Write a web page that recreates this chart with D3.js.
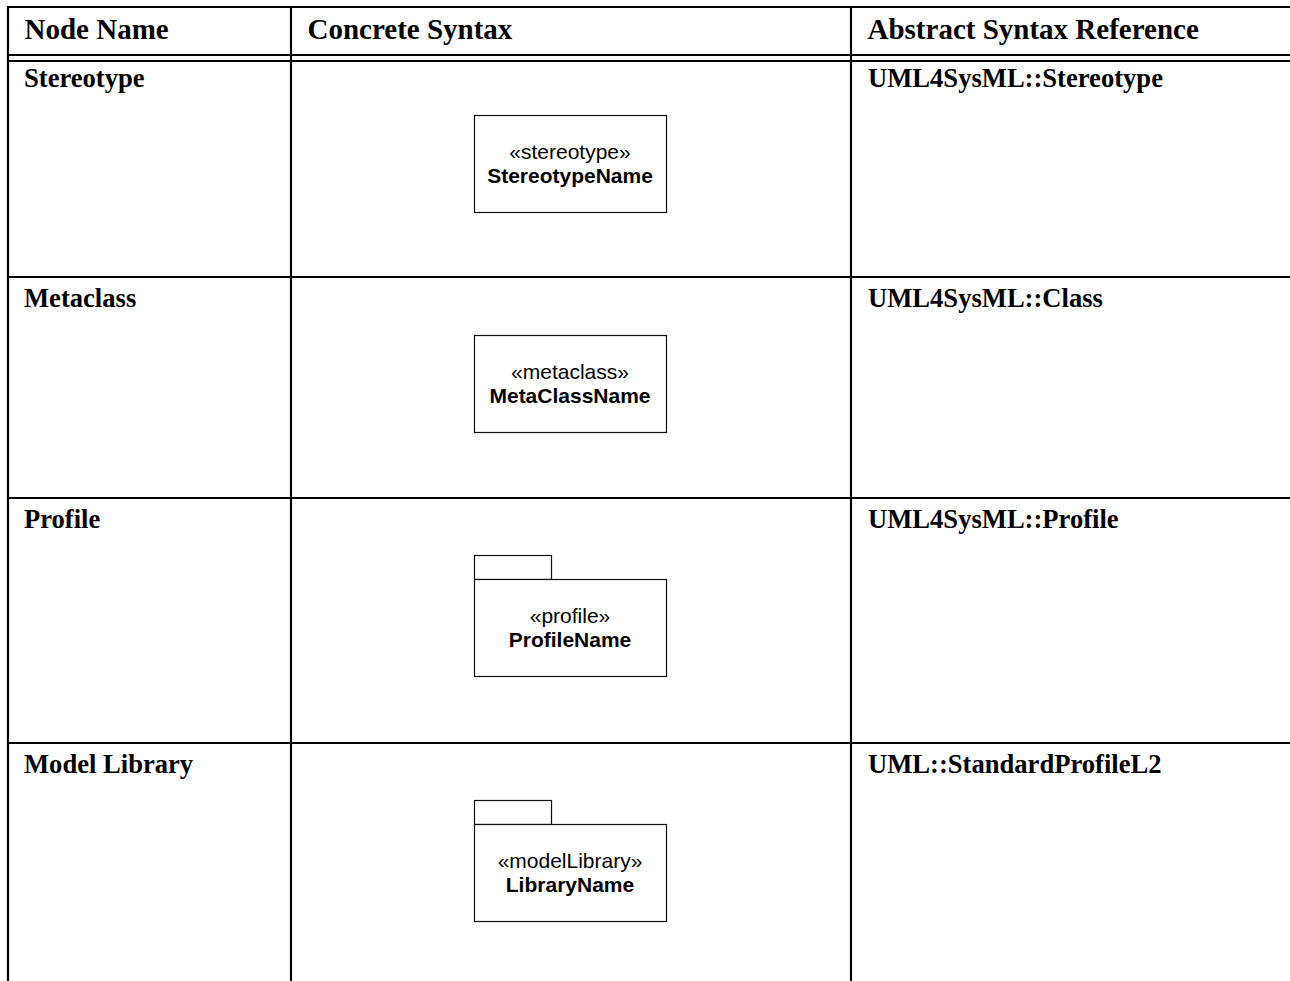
<!DOCTYPE html>
<html>
<head>
<meta charset="utf-8">
<script src="https://cdn.jsdelivr.net/npm/d3@7"></script>
<style>
  html, body { margin: 0; padding: 0; background: #fff; }
  svg { display: block; }
</style>
</head>
<body>
<svg id="chart" width="1290" height="981"></svg>
<script>
// ---- data ----
const columnHeaders = ["Node Name", "Concrete Syntax", "Abstract Syntax Reference"];
const nodeNames = ["Stereotype", "Metaclass", "Profile", "Model Library"];
const abstractRefs = ["UML4SysML::Stereotype", "UML4SysML::Class", "UML4SysML::Profile", "UML::StandardProfileL2"];
const keywords = ["«stereotype»", "«metaclass»", "«profile»", "«modelLibrary»"];
const elementNames = ["StereotypeName", "MetaClassName", "ProfileName", "LibraryName"];
const shapeKinds = ["class", "class", "package", "package"];

// ---- layout ----
const W = 1290, H = 981;
const tableLeft = 8, tableTop = 7;
const colEdges = [8, 291, 851, 1290];
const headerBottom = 55, headerBottom2 = 61;
const rowTops = [61, 277, 498, 743];
const labelBaseline = [26, 30, 30, 30];

const svg = d3.select("#chart");
svg.append("rect").attr("width", W).attr("height", H).attr("fill", "#fff");

const x = d3.scaleOrdinal().domain(columnHeaders).range(colEdges.slice(0, 3));
const y = d3.scaleOrdinal().domain(nodeNames).range(rowTops);

const lines = svg.append("g").attr("stroke", "#000").attr("stroke-width", 2.2);
// top border
lines.append("line").attr("x1", tableLeft - 1).attr("x2", W).attr("y1", tableTop).attr("y2", tableTop);
// vertical borders
colEdges.slice(0, 3).forEach(cx => {
  lines.append("line").attr("x1", cx).attr("x2", cx).attr("y1", tableTop).attr("y2", H);
});
// header double rule
[headerBottom, headerBottom2].forEach(hy => {
  lines.append("line").attr("x1", tableLeft - 1).attr("x2", W).attr("y1", hy).attr("y2", hy);
});
// row rules
nodeNames.slice(1).forEach(n => {
  lines.append("line").attr("x1", tableLeft - 1).attr("x2", W).attr("y1", y(n)).attr("y2", y(n));
});

// header text
svg.append("g").selectAll("text").data(columnHeaders).join("text")
  .attr("x", d => x(d) + 16.5)
  .attr("y", 39)
  .attr("font-family", "'Liberation Serif', 'Times New Roman', serif")
  .attr("font-weight", "bold")
  .attr("font-size", 29)
  .attr("fill", "#000")
  .text(d => d);

// node names
svg.append("g").selectAll("text").data(nodeNames).join("text")
  .attr("x", x(columnHeaders[0]) + 16)
  .attr("y", (d, i) => y(d) + labelBaseline[i])
  .attr("font-family", "'Liberation Serif', 'Times New Roman', serif")
  .attr("font-weight", "bold")
  .attr("font-size", 26.6)
  .attr("fill", "#000")
  .text(d => d);

// abstract refs
svg.append("g").selectAll("text").data(abstractRefs).join("text")
  .attr("x", x(columnHeaders[2]) + 17)
  .attr("y", (d, i) => y(nodeNames[i]) + labelBaseline[i])
  .attr("font-family", "'Liberation Serif', 'Times New Roman', serif")
  .attr("font-weight", "bold")
  .attr("font-size", 26.6)
  .attr("fill", "#000")
  .text(d => d);

// concrete syntax shapes
const boxX = 474, boxW = 192, boxH = 97, tabW = 77, tabH = 24;
const boxTopOffset = [54, 58, 81, 81];
const shapes = svg.append("g");
nodeNames.forEach((n, i) => {
  const top = y(n) + boxTopOffset[i];
  const g = shapes.append("g");
  if (shapeKinds[i] === "package") {
    g.append("rect").attr("x", boxX + 0.5).attr("y", top - tabH + 0.5)
      .attr("width", tabW).attr("height", tabH)
      .attr("fill", "#fff").attr("stroke", "#111").attr("stroke-width", 1.2);
  }
  g.append("rect").attr("x", boxX + 0.5).attr("y", top + 0.5)
    .attr("width", boxW).attr("height", boxH)
    .attr("fill", "#fff").attr("stroke", "#111").attr("stroke-width", 1.2);
  const cx = boxX + boxW / 2;
  g.append("text").attr("x", cx).attr("y", top + 44)
    .attr("text-anchor", "middle")
    .attr("font-family", "'Liberation Sans', Arial, sans-serif")
    .attr("font-size", 21).attr("fill", "#000")
    .text(keywords[i]);
  g.append("text").attr("x", cx).attr("y", top + 68)
    .attr("text-anchor", "middle")
    .attr("font-family", "'Liberation Sans', Arial, sans-serif")
    .attr("font-weight", "bold")
    .attr("font-size", 21).attr("fill", "#000")
    .text(elementNames[i]);
});
</script>
</body>
</html>
